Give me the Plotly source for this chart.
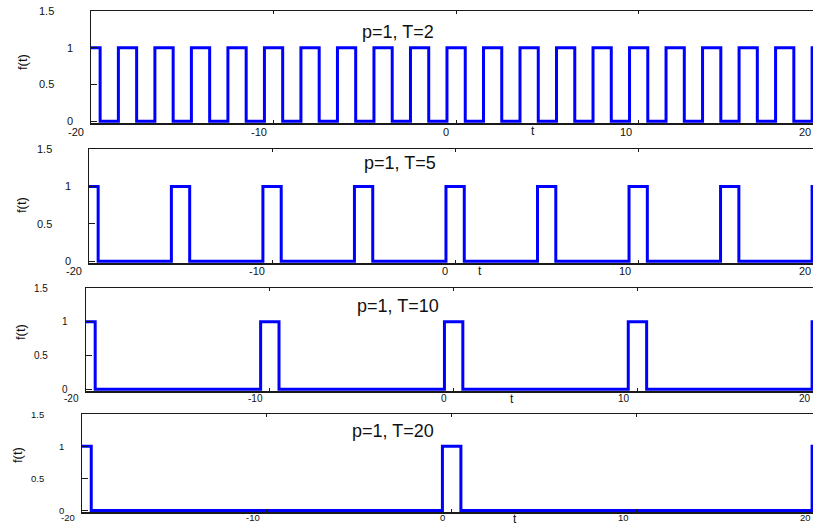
import plotly.graph_objects as go

# ---------------- data ----------------
pulse_width = 1
periods = [2, 5, 10, 20]
titles = ["p=1, T=2", "p=1, T=5", "p=1, T=10", "p=1, T=20"]
centers_T2 = [-20, -18, -16, -14, -12, -10, -8, -6, -4, -2, 0, 2, 4, 6, 8, 10, 12, 14, 16, 18, 20]
centers_T5 = [-20, -15, -10, -5, 0, 5, 10, 15, 20]
centers_T10 = [-20, -10, 0, 10, 20]
centers_T20 = [-20, 0, 20]
all_centers = [centers_T2, centers_T5, centers_T10, centers_T20]

x_tick_vals = [-20, -10, 0, 10, 20]
x_tick_text = ["-20", "-10", "0", "10", "20"]
y_tick_vals = [0, 0.5, 1, 1.5]
y_tick_text = ["0", "0.5", "1", "1.5"]
x_title = "t"
y_title = "f(t)"

# ---------------- layout helpers ----------------
W, H = 813, 525
x_range = [-20, 19.55]
y_range = [-0.025, 1.5]
# panel boxes in pixels: left, top, right, bottom
boxes = [(91, 11, 813, 123), (89, 149, 813, 263), (86, 288, 813, 391), (82, 414, 813, 512)]
title_pos = [(398, 32), (400, 163), (398, 306), (393, 431)]
t_pos = [(533, 131), (480, 271), (512, 399), (515, 519)]
f_pos = [(22, 62), (22, 205), (20, 332), (17, 455)]
xlabel_gap = [9, 8, 7, 5]
tick_font = [11, 11, 10, 9.5]

FONT = "Liberation Sans, Arial, sans-serif"
AXC = "#1a1a1a"

fig = go.Figure()
annotations = []

for i, (T, centers) in enumerate(zip(periods, all_centers)):
    n = i + 1
    sfx = "" if n == 1 else str(n)
    xs, ys = [], []
    for c in centers:
        xs += [c - pulse_width / 2, c + pulse_width / 2]
        ys += [1, 0]
    fig.add_trace(go.Scatter(
        x=xs, y=ys, mode="lines", line=dict(color="#0000ff", width=3, shape="hv"),
        xaxis=f"x{sfx}", yaxis=f"y{sfx}", showlegend=False, hoverinfo="skip"))

    l, t, r, b = boxes[i]
    xd = [l / W, r / W]
    yd = [1 - b / H, 1 - t / H]
    fig.update_layout(**{
        f"xaxis{sfx}": dict(domain=xd, range=x_range, anchor=f"y{sfx}", showgrid=False, zeroline=False,
                            showline=True, linecolor=AXC, linewidth=1.5, mirror="ticks",
                            ticks="inside", ticklen=3, tickcolor=AXC, tickvals=x_tick_vals,
                            showticklabels=False, fixedrange=True),
        f"yaxis{sfx}": dict(domain=yd, range=y_range, anchor=f"x{sfx}", showgrid=False, zeroline=False,
                            showline=True, linecolor=AXC, linewidth=1.5,
                            ticks="inside", ticklen=6, tickcolor=AXC, tickvals=y_tick_vals[:3],
                            showticklabels=False, fixedrange=True),
    })

    # x tick labels
    for v, s in zip(x_tick_vals, x_tick_text):
        frac = (v - x_range[0]) / (x_range[1] - x_range[0])
        annotations.append(dict(
            xref=f"x{sfx} domain", yref=f"y{sfx} domain",
            x=min(frac, 1.0), y=0,
            xanchor="right", yanchor="middle", xshift=-5 if frac <= 1 else 0,
            yshift=-xlabel_gap[i],
            text=s, showarrow=False, font=dict(family=FONT, size=tick_font[i], color="#111")))
    # y tick labels
    for v, s in zip(y_tick_vals, y_tick_text):
        annotations.append(dict(
            xref=f"x{sfx} domain", yref=f"y{sfx} domain",
            x=0, y=(v - y_range[0]) / (y_range[1] - y_range[0]),
            xanchor="center", yanchor="middle",
            xshift=-21 if len(s) == 1 else -45,
            text=s, showarrow=False, font=dict(family=FONT, size=tick_font[i], color="#111")))
    # panel title
    tx, ty = title_pos[i]
    annotations.append(dict(xref="paper", yref="paper", x=tx / W, y=1 - ty / H,
                            xanchor="center", yanchor="middle", text=titles[i], showarrow=False,
                            font=dict(family=FONT, size=18, color="#111")))
    # x title
    ax_, ay_ = t_pos[i]
    annotations.append(dict(xref="paper", yref="paper", x=ax_ / W, y=1 - ay_ / H,
                            xanchor="center", yanchor="middle", text=x_title, showarrow=False,
                            font=dict(family=FONT, size=12, color="#111")))
    # y title
    fx, fy = f_pos[i]
    annotations.append(dict(xref="paper", yref="paper", x=fx / W, y=1 - fy / H,
                            xanchor="center", yanchor="middle", text=y_title, textangle=-90,
                            showarrow=False, font=dict(family=FONT, size=13, color="#111")))

fig.update_layout(
    width=W, height=H, margin=dict(l=0, r=0, t=0, b=0),
    paper_bgcolor="white", plot_bgcolor="white",
    annotations=annotations, showlegend=False,
)

fig.write_html("out.html", config={"displayModeBar": False, "staticPlot": True},
               post_script="document.body.style.margin='0px';document.body.style.overflow='hidden';")
